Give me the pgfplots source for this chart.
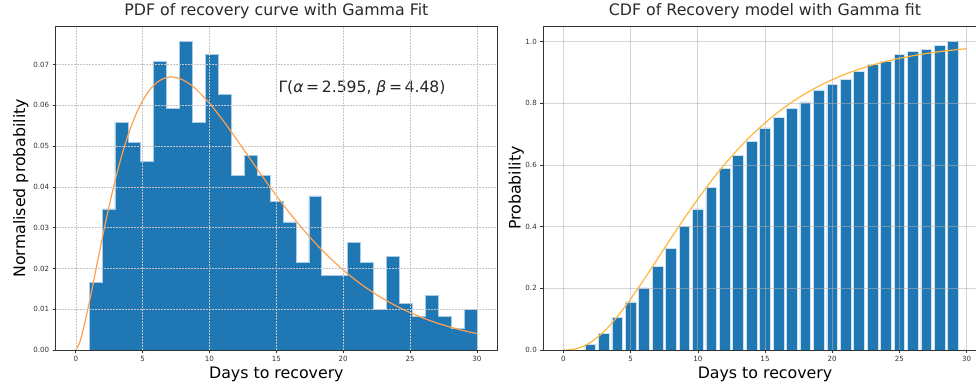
\documentclass[border=0pt]{standalone}
\usepackage{fontspec}
\setmainfont{DejaVu Sans}
\usepackage{pgfplots}
\pgfplotsset{compat=1.18}
\definecolor{bblue}{HTML}{1F77B4}
\definecolor{bedge}{HTML}{A8CBE8}
\definecolor{pdforange}{RGB}{255,160,80}
\definecolor{cdforange}{RGB}{255,182,60}
\definecolor{spine}{HTML}{333333}
\pgfplotsset{
  common/.style={
    scale only axis, anchor=south west,
    height=323.7pt,
    xmin=-1.5, xmax=31.5, ymin=0,
    xtick={0,5,10,15,20,25,30},
    tick align=outside, major tick length=3pt,
    xtick pos=left, ytick pos=left,
    tick style={spine, line width=0.6pt},
    axis line style={spine, line width=0.8pt},
    tick label style={font=\fontsize{7.1}{8}\selectfont, text=spine},
    /pgf/number format/assume math mode=true,
    scaled y ticks=false,
    label style={font=\fontsize{15.8}{18}\selectfont, text=black},
    title style={font=\fontsize{15.8}{18}\selectfont, text=spine!80!black, at={(axis description cs:0.5,1.0142)}, anchor=base},
    xlabel style={at={(axis description cs:0.5,-0.0865)}, anchor=base},
    grid=major,
    axis on top,
  }
}
\begin{document}
\begin{tikzpicture}
\begin{axis}[common,
  at={(55.7pt,35pt)}, width=441.3pt,
  ymax=0.0794,
  ytick={0,0.01,0.02,0.03,0.04,0.05,0.06,0.07},
  yticklabel style={/pgf/number format/.cd, fixed, fixed zerofill, precision=2},
  major grid style={dash pattern=on 1.8pt off 1.2pt, gray!45, line width=0.5pt},
  title={PDF of recovery curve with Gamma Fit},
  xlabel={Days to recovery},
  ylabel={Normalised probability},
  ylabel style={at={(axis description cs:-0.0791,0.5)}, anchor=center, rotate=0},
]
\addplot[const plot, fill=bblue, draw=bedge, line width=0.7pt] coordinates {
(1,0) (1,0.0166) (1.96667,0.0346) (2.93333,0.0559) (3.9,0.0510) (4.86667,0.0462)
(5.83333,0.0708) (6.8,0.0593) (7.76667,0.0756) (8.73333,0.0559) (9.7,0.0726)
(10.66667,0.0626) (11.63333,0.0429) (12.6,0.0477) (13.56667,0.0429) (14.53333,0.0364)
(15.5,0.0314) (16.46667,0.0215) (17.43333,0.0378) (18.4,0.0182) (19.36667,0.0182)
(20.33333,0.0264) (21.3,0.0215) (22.26667,0.0099) (23.23333,0.0230) (24.2,0.0115)
(25.16667,0.0083) (26.13333,0.0133) (27.1,0.0083) (28.06667,0.0052) (29.03333,0.0099)
(30,0.0099) (30,0)} -- cycle;
\addplot[pdforange, line width=1.2pt, smooth] coordinates {
(0,0) (0.25,0.001485) (0.5,0.004244) (1,0.011466) (1.5,0.019579) (2,0.027707)
(2.5,0.035375) (3,0.042318) (3.5,0.048399) (4,0.053562) (4.5,0.057807) (5,0.061166)
(5.5,0.063688) (6,0.065443) (6.5,0.066502) (7,0.066943) (7.5,0.066838) (8,0.066262)
(8.5,0.065281) (9,0.063960) (10,0.060527) (11,0.056366) (12,0.051802) (13,0.047082)
(14,0.042388) (15,0.037852) (16,0.033563) (17,0.029574) (18,0.025916) (19,0.022599)
(20,0.019618) (21,0.016964) (22,0.014615) (23,0.012550) (24,0.010745) (25,0.009174)
(26,0.007812) (27,0.006637) (28,0.005626) (29,0.004760) (30,0.004019)};
\node[anchor=west, font=\fontsize{15.6}{18}\selectfont, text=black!85] at (axis cs:14.9,0.0643)
  {Γ(\textit{α}\,=\,2.595, \textit{β}\,=\,4.48)};
\end{axis}
\begin{axis}[common,
  at={(543.3pt,35pt)}, width=443.4pt,
  ymax=1.05,
  ytick={0,0.2,0.4,0.6,0.8,1.0},
  yticklabel style={/pgf/number format/.cd, fixed, fixed zerofill, precision=1},
  major grid style={gray!60, opacity=0.55, line width=0.9pt},
  title={CDF of Recovery model with Gamma fit},
  xlabel={Days to recovery},
  ylabel={Probability},
  ylabel style={at={(axis description cs:-0.0609,0.5)}, anchor=center, rotate=0},
]
\addplot[ybar, bar width=0.8, fill=bblue, draw=bedge!60!white, line width=0.6pt] coordinates {
(2,0.0173) (3,0.054) (4,0.107) (5,0.156) (6,0.2015) (7,0.270) (8,0.329) (9,0.402)
(10,0.458) (11,0.5265) (12,0.588) (13,0.6305) (14,0.676) (15,0.7205) (16,0.754)
(17,0.784) (18,0.805) (19,0.844) (20,0.862) (21,0.8776) (22,0.9036) (23,0.9274)
(24,0.935) (25,0.9577) (26,0.9675) (27,0.976) (28,0.989) (29,1.0)};
\addplot[cdforange, line width=1.2pt, smooth] coordinates {
(0,0) (0.5,0.000843) (1,0.004707) (1.5,0.012453) (2,0.024286) (2.5,0.040082)
(3,0.059540) (3.5,0.082256) (4,0.107787) (5,0.165452) (6,0.229013) (7,0.295412)
(8,0.362176) (9,0.427397) (10,0.489715) (11,0.548209) (12,0.602316) (13,0.651764)
(14,0.696491) (15,0.736594) (16,0.772279) (17,0.803821) (18,0.831538) (19,0.855767)
(20,0.876848) (21,0.895113) (22,0.910878) (23,0.924438) (24,0.936065) (25,0.946006)
(26,0.954483) (27,0.961693) (28,0.967812) (29,0.972994) (30,0.977374)};
\end{axis}
\pgfresetboundingbox
\path[use as bounding box] (0pt,0pt) rectangle (976pt,385pt);
\end{tikzpicture}
\end{document}
